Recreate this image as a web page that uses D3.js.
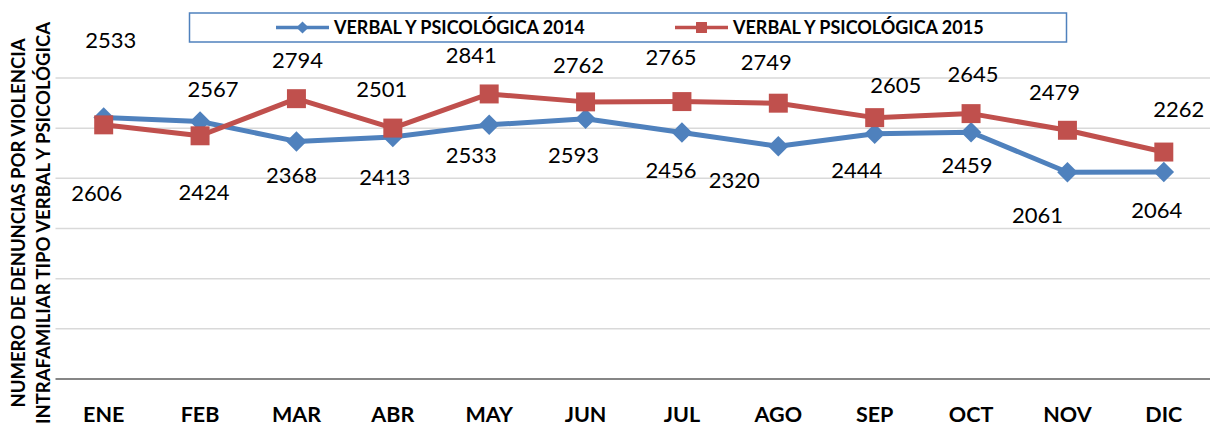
<!DOCTYPE html>
<html>
<head>
<meta charset="utf-8">
<script src="https://cdn.jsdelivr.net/npm/d3@7"></script>
<style>
  body { margin: 0; background: #fff; }
  svg { display: block; }
</style>
</head>
<body>
<div id="chart"></div>
<script>
// data
const months = ['ENE', 'FEB', 'MAR', 'ABR', 'MAY', 'JUN', 'JUL', 'AGO', 'SEP', 'OCT', 'NOV', 'DIC'];
const values2014 = [2606, 2567, 2368, 2413, 2533, 2593, 2456, 2320, 2444, 2459, 2061, 2064];
const values2015 = [2533, 2424, 2794, 2501, 2841, 2762, 2765, 2749, 2605, 2645, 2479, 2262];
const seriesNames = ['VERBAL Y PSICOLÓGICA 2014', 'VERBAL Y PSICOLÓGICA 2015'];
const yTicks = [0, 500, 1000, 1500, 2000, 2500, 3000];
const yTitle = ['NUMERO DE DENUNCIAS POR VIOLENCIA', 'INTRAFAMILIAR TIPO VERBAL Y PSICOLÓGICA'];

// hand-placed data label offsets (px from the point), as in the original chart
const offsets2014 = [[-7, 83], [13, -24], [-5, 42], [-8, 48], [-18, 38], [-12, 44],
  [-11, 45], [-44, 42], [-18, 44], [-4, 41], [-30, 51], [-7, 46]];
const offsets2015 = [[7, -77], [4, 64], [1, -31], [-11, -31], [-18, -31], [-7, -29],
  [-11, -37], [-12, -33], [21, -25], [2, -32], [-13, -30], [15, -35]];

const width = 1210;
const height = 426;
const blue = '#4f81bd';
const red = '#c0504d';

const svg = d3
  .select('#chart')
  .append('svg')
  .attr('width', width)
  .attr('height', height);

const x = d3.scaleBand().domain(months).range([55.5, 1212]);
const y = d3.scaleLinear().domain([0, 3000]).range([379, 78]);
const cx = (d) => x(d) + x.bandwidth() / 2;

// gridlines
svg
  .append('g')
  .selectAll('line')
  .data(yTicks.filter((t) => t > 0))
  .join('line')
  .attr('x1', 55.5)
  .attr('x2', width)
  .attr('y1', (d) => y(d))
  .attr('y2', (d) => y(d))
  .attr('stroke', '#d9d9d9')
  .attr('stroke-width', 1.5);

// category axis
svg
  .append('line')
  .attr('x1', 55.5)
  .attr('x2', width)
  .attr('y1', y(0))
  .attr('y2', y(0))
  .attr('stroke', '#868686')
  .attr('stroke-width', 2);

svg
  .append('g')
  .selectAll('text')
  .data(months)
  .join('text')
  .attr('x', (d) => cx(d))
  .attr('y', 422)
  .attr('text-anchor', 'middle')
  .style('font', 'bold 21.5px Lato, sans-serif')
  .text((d) => d);

// y title
const title = svg
  .append('text')
  .attr('transform', 'translate(0,223) rotate(-90)')
  .attr('text-anchor', 'middle')
  .style('font', 'bold 18.5px Lato, sans-serif');
title
  .selectAll('tspan')
  .data(yTitle)
  .join('tspan')
  .attr('x', 0)
  .attr('y', (d, i) => 25 + i * 25)
  .text((d) => d);

// diamond = square turned 45 degrees
const series = [
  { name: seriesNames[0], values: values2014, color: blue, rot: 45, size: 210, legendSize: 75, offsets: offsets2014 },
  { name: seriesNames[1], values: values2015, color: red, rot: 0, size: 360, legendSize: 120, offsets: offsets2015 },
];

const line = d3
  .line()
  .x((d, i) => cx(months[i]))
  .y((d) => y(d));

series.forEach((s) => {
  svg
    .append('path')
    .datum(s.values)
    .attr('d', line)
    .attr('fill', 'none')
    .attr('stroke', s.color)
    .attr('stroke-width', 5)
    .attr('stroke-linejoin', 'round');

  svg
    .append('g')
    .selectAll('path')
    .data(s.values)
    .join('path')
    .attr('transform', (d, i) => `translate(${cx(months[i])},${y(d)}) rotate(${s.rot})`)
    .attr('d', d3.symbol(d3.symbolSquare, s.size))
    .attr('fill', s.color);
});

// data labels
series.forEach((s) => {
  svg
    .append('g')
    .selectAll('text')
    .data(s.values)
    .join('text')
    .attr('x', (d, i) => cx(months[i]) + s.offsets[i][0])
    .attr('y', (d, i) => y(d) + s.offsets[i][1])
    .attr('text-anchor', 'middle')
    .style('font', '22px Lato, sans-serif')
    .text((d) => d);
});

// legend
const legend = svg.append('g');
legend
  .append('rect')
  .attr('x', 189.5)
  .attr('y', 13)
  .attr('width', 877)
  .attr('height', 29)
  .attr('fill', '#fff')
  .attr('stroke', blue)
  .attr('stroke-width', 1.5);

const legendX = [276, 675];
series.forEach((s, i) => {
  const g = legend.append('g').attr('transform', `translate(${legendX[i]},27.5)`);
  g.append('line')
    .attr('x1', 0)
    .attr('x2', 53)
    .attr('stroke', s.color)
    .attr('stroke-width', 3.5);
  g.append('path')
    .attr('transform', `translate(26.5,0) rotate(${s.rot})`)
    .attr('d', d3.symbol(d3.symbolSquare, s.legendSize))
    .attr('fill', s.color);
  g.append('text')
    .attr('x', 58)
    .attr('y', 6.5)
    .style('font', 'bold 18px Lato, sans-serif')
    .text(s.name);
});
</script>
</body>
</html>
